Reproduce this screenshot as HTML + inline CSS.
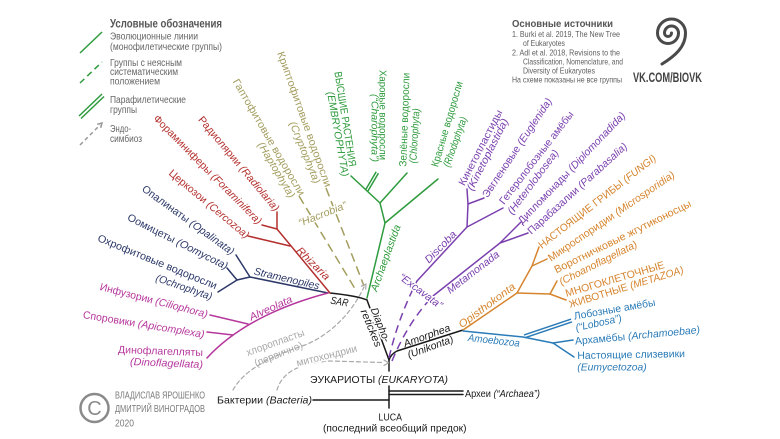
<!DOCTYPE html>
<html><head><meta charset="utf-8">
<style>
html,body{margin:0;padding:0;background:#fff;}
svg{display:block;}
.t{font-size:10.5px;dominant-baseline:central;}
.h{paint-order:stroke;stroke:#fff;stroke-width:3px;stroke-linejoin:round;}
.i{font-style:italic;}
</style></head>
<body>
<svg width="780" height="439" viewBox="0 0 780 439" xmlns="http://www.w3.org/2000/svg" font-family="'Liberation Sans','DejaVu Sans',sans-serif">
<rect width="780" height="439" fill="#fff"/>

<!-- ===== Legend ===== -->
<g fill="none" stroke-width="1.5">
  <line x1="80" y1="53" x2="102" y2="32" stroke="#2e9b3d"/>
  <line x1="80" y1="83" x2="102" y2="62" stroke="#2e9b3d" stroke-dasharray="6,4"/>
  <line x1="79" y1="116" x2="102" y2="94" stroke="#2e9b3d"/>
  <line x1="81" y1="118.5" x2="104" y2="96.5" stroke="#2e9b3d"/>
  <line x1="80" y1="145" x2="100" y2="125" stroke="#999" stroke-dasharray="4,3"/>
  <path d="M97.2,124.3 L102,123 L100.7,127.8" stroke="#999"/>
</g>
<g fill="#666" font-size="10">
  <text x="110" y="27.5" font-size="11.5" font-weight="bold" fill="#555" textLength="112" lengthAdjust="spacingAndGlyphs">Условные обозначения</text>
  <text x="110" y="39.5" textLength="88" lengthAdjust="spacingAndGlyphs">Эволюционные линии</text>
  <text x="110" y="50" textLength="112" lengthAdjust="spacingAndGlyphs">(монофилетические группы)</text>
  <text x="110" y="66" textLength="72" lengthAdjust="spacingAndGlyphs">Группы с неясным</text>
  <text x="110" y="75" textLength="68" lengthAdjust="spacingAndGlyphs">систематическим</text>
  <text x="110" y="84.5" textLength="50" lengthAdjust="spacingAndGlyphs">положением</text>
  <text x="110" y="103" textLength="76" lengthAdjust="spacingAndGlyphs">Парафилетические</text>
  <text x="110" y="113" textLength="27" lengthAdjust="spacingAndGlyphs">группы</text>
  <text x="110" y="132" textLength="21" lengthAdjust="spacingAndGlyphs">Эндо-</text>
  <text x="110" y="142" textLength="32" lengthAdjust="spacingAndGlyphs">симбиоз</text>
</g>

<!-- ===== Sources ===== -->
<g fill="#5e5e5e" font-size="8.5">
  <text x="512" y="27" font-size="10.5" font-weight="bold" fill="#555" textLength="101" lengthAdjust="spacingAndGlyphs">Основные источники</text>
  <text x="512" y="37" textLength="108" lengthAdjust="spacingAndGlyphs">1.  Burki et al. 2019, The New Tree</text>
  <text x="523" y="46" textLength="42" lengthAdjust="spacingAndGlyphs">of Eukaryotes</text>
  <text x="512" y="55.5" textLength="108" lengthAdjust="spacingAndGlyphs">2.  Adl et al. 2018, Revisions to the</text>
  <text x="523" y="64.5" textLength="100" lengthAdjust="spacingAndGlyphs">Classification, Nomenclature, and</text>
  <text x="523" y="73.5" textLength="72" lengthAdjust="spacingAndGlyphs">Diversity of Eukaryotes</text>
  <text x="512" y="82.5" textLength="110" lengthAdjust="spacingAndGlyphs">На схеме показаны не все группы</text>
</g>

<!-- ===== Logo ===== -->
<path d="M671.5,33 A3.5,3.5 0 0,1 664.5,33 A7,7 0 0,1 678.5,33 A10.5,10.5 0 0,1 657.5,33 A14,14 0 0,1 685.5,33 C685.5,47 675,56 662,64" fill="none" stroke="#4a4a4a" stroke-width="3" stroke-linecap="round"/>
<text x="633" y="82" font-size="14" font-weight="bold" fill="#444" textLength="69" lengthAdjust="spacingAndGlyphs">VK.COM/BIOVK</text>

<!-- ===== Credits ===== -->
<circle cx="94.5" cy="408" r="14" fill="none" stroke="#8a8a8a" stroke-width="2.5"/>
<text x="94.5" y="415" font-size="20" fill="#8a8a8a" text-anchor="middle">C</text>
<g fill="#7a7a7a" font-size="10.5">
  <text x="115" y="398.5" textLength="90" lengthAdjust="spacingAndGlyphs">ВЛАДИСЛАВ ЯРОШЕНКО</text>
  <text x="115" y="412" textLength="90" lengthAdjust="spacingAndGlyphs">ДМИТРИЙ ВИНОГРАДОВ</text>
  <text x="115" y="426.5" textLength="19" lengthAdjust="spacingAndGlyphs">2020</text>
</g>

<!-- ===== Tree lines ===== -->
<g fill="none" stroke-width="1.5" stroke-linecap="round" stroke-linejoin="round">
  <g stroke="#1a1a1a">
    <path d="M389,371 L389,360"/>
    <path d="M389,386 L389,408"/>
    <path d="M313,400 L389,400"/>
    <path d="M389,391 L463,391"/>
    <path d="M389,394.5 L463,394.5"/>
    <path d="M389,360 L367,300"/>
    <path d="M367,300 Q358,296 330,293"/>
    <path d="M389,360 Q391,354 397,351 L463,330"/>
  </g>
  <g stroke="#b3302e">
    <path d="M330,293 L277,229 L277,212"/>
    <path d="M277,229 L262,225"/>
    <path d="M290,246 L248,236"/>
  </g>
  <g stroke="#2c3868">
    <path d="M328,293 L250,277 L236,255"/>
    <path d="M250,277 L237,280 L227,268"/>
    <path d="M237,280 L218,292"/>
  </g>
  <g stroke="#b5379c">
    <path d="M328,293 C290,303 240,322 207,358"/>
    <path d="M248,324 L210,315"/>
    <path d="M233,335 L207,332"/>
  </g>
  <g stroke="#a39d5e" stroke-dasharray="9,5" stroke-linecap="butt">
    <path d="M299,196 L357,292"/>
    <path d="M326,188 L364,286"/>
  </g>
  <g stroke="#2e9b3d">
    <path d="M367,298 L385,223 L380,203 L351,176"/>
    <path d="M385,223 L438,179"/>
    <path d="M380,203 L407,173"/>
    <path d="M365.9,189.3 L375.9,172.3"/>
    <path d="M368.1,190.7 L378.1,173.7"/>
  </g>
  <g stroke="#7a40ae">
    <path d="M389,358 Q398,318 417,281" stroke-dasharray="8,5" stroke-linecap="butt"/>
    <path d="M392,361 Q408,322 433,296" stroke-dasharray="8,5" stroke-linecap="butt"/>
    <path d="M417,281 L467,227 L468,204 L467,189"/>
    <path d="M468,204 L484,198"/>
    <path d="M467,227 L503,208"/>
    <path d="M433,296 L500,243 L521,222"/>
    <path d="M500,243 L528,233"/>
  </g>
  <g stroke="#d6852e">
    <path d="M463,330 L517,293 L532,266 L539,247"/>
    <path d="M532,266 L547,259"/>
    <path d="M517,293 L550,294 L557,281"/>
    <path d="M550,294 L566,300"/>
  </g>
  <g stroke="#2a7bb7">
    <path d="M463,331 L523,337 L553,343 L573,340"/>
    <path d="M553,343 L574,357"/>
    <path d="M524.5,334.8 L570.5,319.3"/>
    <path d="M525.5,337.6 L571.5,322.1"/>
  </g>
  <g stroke="#a8a8a8" stroke-width="1.2">
    <path d="M233,390 C245,368 275,355 305,345 C330,335 352,313 364,287" stroke-dasharray="4,3"/>
    <path d="M361.5,286.2 L366,284 L365.7,289"/>
    <path d="M277,390 C282,373 298,363 330,361 L384,362.5" stroke-dasharray="4,3"/>
    <path d="M384,360 L388.5,362.8 L384,365.5"/>
  </g>
</g>

<!-- ===== Tree labels ===== -->
<g class="t">
  <g fill="#b3302e">
    <text transform="translate(200,118) rotate(50.1)" textLength="120" lengthAdjust="spacingAndGlyphs">Радиолярии <tspan class="i">(Radiolaria)</tspan></text>
    <text transform="translate(155,117) rotate(45.3)" textLength="149" lengthAdjust="spacingAndGlyphs">Фораминиферы <tspan class="i">(Foraminifera)</tspan></text>
    <text transform="translate(170,172) rotate(39.8)" textLength="101" lengthAdjust="spacingAndGlyphs">Церкозои <tspan class="i">(Cercozoa)</tspan></text>
    <text class="i" transform="translate(298,249) rotate(44.7)" textLength="42" lengthAdjust="spacingAndGlyphs">Rhizaria</text>
  </g>
  <g fill="#2c3868">
    <text transform="translate(143,188) rotate(35.8)" textLength="111" lengthAdjust="spacingAndGlyphs">Опалинаты <tspan class="i">(Opalinata)</tspan></text>
    <text transform="translate(128,217) rotate(26.8)" textLength="111" lengthAdjust="spacingAndGlyphs">Оомицеты <tspan class="i">(Oomycota)</tspan></text>
    <text transform="translate(98,238) rotate(22.3)" textLength="128" lengthAdjust="spacingAndGlyphs">Охрофитовые водоросли</text>
    <text class="i" transform="translate(156,278) rotate(19)" textLength="59" lengthAdjust="spacingAndGlyphs">(Ochrophyta)</text>
    <text class="i" transform="translate(254,271.5) rotate(13)" textLength="67" lengthAdjust="spacingAndGlyphs">Stramenopiles</text>
  </g>
  <g fill="#b5379c">
    <text transform="translate(100,287) rotate(14.5)" textLength="111" lengthAdjust="spacingAndGlyphs">Инфузории <tspan class="i">(Ciliophora)</tspan></text>
    <text transform="translate(83,315) rotate(9.3)" textLength="123" lengthAdjust="spacingAndGlyphs">Споровики <tspan class="i">(Apicomplexa)</tspan></text>
    <text transform="translate(118,350) rotate(2)" textLength="85" lengthAdjust="spacingAndGlyphs">Динофлагелляты</text>
    <text class="i" transform="translate(130,362) rotate(2.4)" textLength="73" lengthAdjust="spacingAndGlyphs">(Dinoflagellata)</text>
    <text class="i" transform="translate(250,318) rotate(-24.5)" textLength="46" lengthAdjust="spacingAndGlyphs">Alveolata</text>
  </g>
  <g fill="#a39d5e">
    <text transform="translate(235,80) rotate(59.8)" textLength="133" lengthAdjust="spacingAndGlyphs">Гаптофитовые водоросли</text>
    <text class="i" transform="translate(260,143) rotate(59.4)" textLength="63" lengthAdjust="spacingAndGlyphs">(Haptophyta)</text>
    <text transform="translate(280,52) rotate(70.4)" textLength="143" lengthAdjust="spacingAndGlyphs">Криптофитовые водоросли</text>
    <text class="i" transform="translate(292,122) rotate(67.7)" textLength="66" lengthAdjust="spacingAndGlyphs">(Cryptophyta)</text>
    <text class="i h" transform="translate(299,224) rotate(-21.8)" textLength="51" lengthAdjust="spacingAndGlyphs">“Hacrobia”</text>
  </g>
  <g fill="#2e9b3d">
    <text transform="translate(337.3,71.7) rotate(81)" textLength="96" lengthAdjust="spacingAndGlyphs">ВЫСШИЕ РАСТЕНИЯ</text>
    <text class="i" transform="translate(330,91.7) rotate(80)" textLength="86" lengthAdjust="spacingAndGlyphs">(EMBRYOPHYTA)</text>
    <text transform="translate(382.7,70) rotate(90)" textLength="90" lengthAdjust="spacingAndGlyphs">Харовые водоросли</text>
    <text class="i" transform="translate(374.3,94) rotate(90)" textLength="68" lengthAdjust="spacingAndGlyphs">(“Charophyta”)</text>
    <text transform="translate(403.3,166.7) rotate(-88)" textLength="94" lengthAdjust="spacingAndGlyphs">Зелёные водоросли</text>
    <text class="i" transform="translate(413.3,163.3) rotate(-86.5)" textLength="55" lengthAdjust="spacingAndGlyphs">(Chlorophyta)</text>
    <text transform="translate(435,166.7) rotate(-73.6)" textLength="88.6" lengthAdjust="spacingAndGlyphs">Красные водоросли</text>
    <text class="i" transform="translate(446.7,166.7) rotate(-70.4)" textLength="52.4" lengthAdjust="spacingAndGlyphs">(Rhodophyta)</text>
    <text class="i" transform="translate(374,291) rotate(-70)" textLength="70" lengthAdjust="spacingAndGlyphs">Archaeplastida</text>
  </g>
  <g fill="#7a40ae">
    <text transform="translate(461.7,185) rotate(-62.7)" textLength="83.6" lengthAdjust="spacingAndGlyphs">Кинетопластиды</text>
    <text class="i" transform="translate(470,190) rotate(-63)" textLength="79.3" lengthAdjust="spacingAndGlyphs">(Kinetoplastida)</text>
    <text transform="translate(485,196.7) rotate(-56.3)" textLength="117" lengthAdjust="spacingAndGlyphs">Эвгленовые <tspan class="i">(Euglenida)</tspan></text>
    <text transform="translate(501.7,203.3) rotate(-52.3)" textLength="114.5" lengthAdjust="spacingAndGlyphs">Гетеролобозные амёбы</text>
    <text class="i" transform="translate(510,213.3) rotate(-53.1)" textLength="77.9" lengthAdjust="spacingAndGlyphs">(Heterolobosea)</text>
    <text transform="translate(520,222.7) rotate(-46.3)" textLength="150.4" lengthAdjust="spacingAndGlyphs">Дипломонады <tspan class="i">(Diplomonadida)</tspan></text>
    <text transform="translate(529.3,232.7) rotate(-42.2)" textLength="130.5" lengthAdjust="spacingAndGlyphs">Парабазалии <tspan class="i">(Parabasalia)</tspan></text>
    <text class="i" transform="translate(426.7,261.7) rotate(-45.7)" textLength="40.5" lengthAdjust="spacingAndGlyphs">Discoba</text>
    <text class="i h" transform="translate(400,276) rotate(36.8)" textLength="51.2" lengthAdjust="spacingAndGlyphs">“Excavata”</text>
    <text class="i" transform="translate(448.3,291.7) rotate(-37.5)" textLength="63" lengthAdjust="spacingAndGlyphs">Metamonada</text>
  </g>
  <g fill="#d6852e">
    <text transform="translate(540,246.7) rotate(-37.9)" textLength="145.7" lengthAdjust="spacingAndGlyphs">НАСТОЯЩИЕ ГРИБЫ <tspan class="i">(FUNGI)</tspan></text>
    <text transform="translate(549.3,259.3) rotate(-34.4)" textLength="151" lengthAdjust="spacingAndGlyphs">Микроспоридии <tspan class="i">(Microsporidia)</tspan></text>
    <text transform="translate(555,270.7) rotate(-26.4)" textLength="151.5" lengthAdjust="spacingAndGlyphs">Воротничковые жгутиконосцы</text>
    <text class="i" transform="translate(560,282.7) rotate(-26.8)" textLength="85.9" lengthAdjust="spacingAndGlyphs">(Choanoflagellata)</text>
    <text transform="translate(565.7,294) rotate(-16.4)" textLength="102.8" lengthAdjust="spacingAndGlyphs">МНОГОКЛЕТОЧНЫЕ</text>
    <text transform="translate(569.3,305) rotate(-17.1)" textLength="119.3" lengthAdjust="spacingAndGlyphs">ЖИВОТНЫЕ <tspan class="i">(METAZOA)</tspan></text>
    <text class="i" transform="translate(460,326) rotate(-36.6)" textLength="67.7" lengthAdjust="spacingAndGlyphs">Opisthokonta</text>
  </g>
  <g fill="#2a7bb7">
    <text transform="translate(574,316.7) rotate(-9.8)" textLength="82.5" lengthAdjust="spacingAndGlyphs">Лобозные амёбы</text>
    <text class="i" transform="translate(575.7,328.3) rotate(-12.3)" textLength="47" lengthAdjust="spacingAndGlyphs">(“Lobosa”)</text>
    <text transform="translate(575,341.7) rotate(-5.3)" textLength="125.5" lengthAdjust="spacingAndGlyphs">Архамёбы <tspan class="i">(Archamoebae)</tspan></text>
    <text transform="translate(577.3,356) rotate(-1)" textLength="107.7" lengthAdjust="spacingAndGlyphs">Настоящие слизевики</text>
    <text class="i" transform="translate(577.3,367.3)" textLength="69.4" lengthAdjust="spacingAndGlyphs">(Eumycetozoa)</text>
    <text class="i" transform="translate(468,338) rotate(6.3)" textLength="52" lengthAdjust="spacingAndGlyphs">Amoebozoa</text>
  </g>
  <g fill="#1a1a1a">
    <text class="i" transform="translate(404,344.5) rotate(-20)" textLength="49" lengthAdjust="spacingAndGlyphs">Amorphea</text>
    <text class="i" transform="translate(408,355.5) rotate(-20)" textLength="48" lengthAdjust="spacingAndGlyphs">(Unikonta)</text>
    <text class="i h" transform="translate(373.3,308.3) rotate(68)" textLength="36" lengthAdjust="spacingAndGlyphs">Diapho-</text>
    <text class="i h" transform="translate(363.3,310) rotate(67.7)" textLength="39.6" lengthAdjust="spacingAndGlyphs">retickes</text>
    <text class="i" transform="translate(330.5,300.5) rotate(10)" textLength="18" lengthAdjust="spacingAndGlyphs">SAR</text>
  </g>
  <g fill="#a8a8a8">
    <text transform="translate(246.7,353.3) rotate(-19.8)" textLength="61" lengthAdjust="spacingAndGlyphs">хлоропласты</text>
    <text transform="translate(255,364) rotate(-21.7)" textLength="51" lengthAdjust="spacingAndGlyphs">(первично)</text>
    <text class="h" transform="translate(296.7,363.5) rotate(-13.9)" textLength="62" lengthAdjust="spacingAndGlyphs">митохондрии</text>
  </g>
</g>

<!-- ===== Bottom labels ===== -->
<g fill="#1a1a1a" font-size="10.5">
  <text x="310" y="383" textLength="138" lengthAdjust="spacingAndGlyphs">ЭУКАРИОТЫ <tspan font-style="italic">(EUKARYOTA)</tspan></text>
  <text x="217" y="403.5" textLength="95" lengthAdjust="spacingAndGlyphs">Бактерии <tspan font-style="italic">(Bacteria)</tspan></text>
  <text x="465" y="397" textLength="75" lengthAdjust="spacingAndGlyphs">Археи <tspan font-style="italic">(“Archaea”)</tspan></text>
  <text x="378.5" y="420.5" textLength="23.5" lengthAdjust="spacingAndGlyphs">LUCA</text>
  <text x="323" y="431.5" textLength="143.5" lengthAdjust="spacingAndGlyphs">(последний всеобщий предок)</text>
</g>
</svg>
</body></html>
